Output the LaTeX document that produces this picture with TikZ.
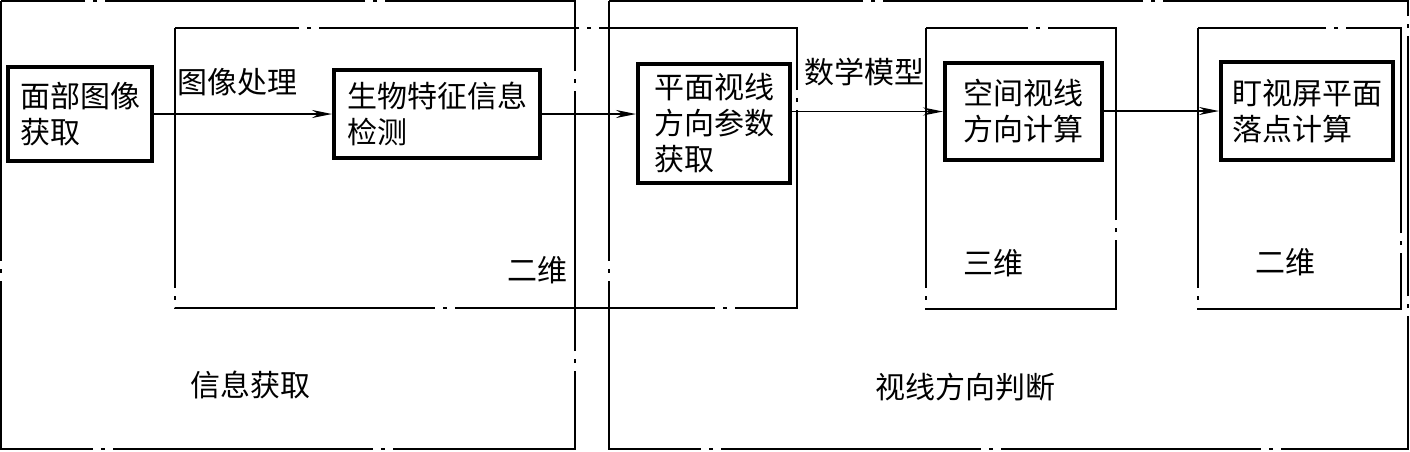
\documentclass[tikz,border=0pt]{standalone}
\usepackage{fontspec}
\newfontfamily\cjk{Noto Sans CJK SC}
\usetikzlibrary{arrows.meta}
\tikzset{
  region/.style={draw, line width=0.9pt, dash pattern=on 130pt off 4pt on 2pt off 4pt},
  stage/.style={draw, line width=2pt, align=left, inner sep=0pt, font=\cjk\fontsize{15pt}{18pt}\selectfont},
  lbl/.style={font=\cjk\fontsize{15pt}{18pt}\selectfont, inner sep=0pt},
  flow/.style={-{Stealth[length=10pt,width=4pt]}, line width=0.8pt}
}
\begin{document}
\begin{tikzpicture}[x=0.5pt, y=-0.5pt]
\useasboundingbox (0,0) rectangle (1410,451);
% regions
\draw[region] (1,1) rectangle (575,449);
\draw[region] (609,1) rectangle (1408,449);
\draw[region] (175,28) rectangle (797,308);
\draw[region] (926,28) rectangle (1116,309);
\draw[region] (1198,28) rectangle (1401,309);
% stages
\node[stage, minimum width=72pt, minimum height=47pt] (a) at (80,114) {面部图像\\获取};
\node[stage, minimum width=103pt, minimum height=44pt] (b) at (437,114) {生物特征信息\\检测};
\node[stage, minimum width=76pt, minimum height=59.5pt] (c) at (714,123.5) {平面视线\\方向参数\\获取};
\node[stage, minimum width=78.5pt, minimum height=48.5pt] (d) at (1023.5,111.5) {空间视线\\方向计算};
\node[stage, minimum width=86pt, minimum height=49pt] (e) at (1307,111) {盯视屏平面\\落点计算};
% flows
\draw[flow] (a.east) -- (b.west);
\draw[flow] (b.east) -- (b.east -| c.west);
\draw[flow] (c.east |- d.west) -- (d.west);
\draw[flow] (d.east |- e.west) -- (e.west);
% labels
\node[lbl] (l1) at (237,82) {图像处理};
\node[lbl] (l2) at (864,72) {数学模型};
\node[lbl] (l3) at (537,270) {二维};
\node[lbl] (l4) at (993,263) {三维};
\node[lbl] (l5) at (1285,262) {二维};
\node[lbl] (l6) at (250,385) {信息获取};
\node[lbl] (l7) at (965,387) {视线方向判断};
\end{tikzpicture}
\end{document}
